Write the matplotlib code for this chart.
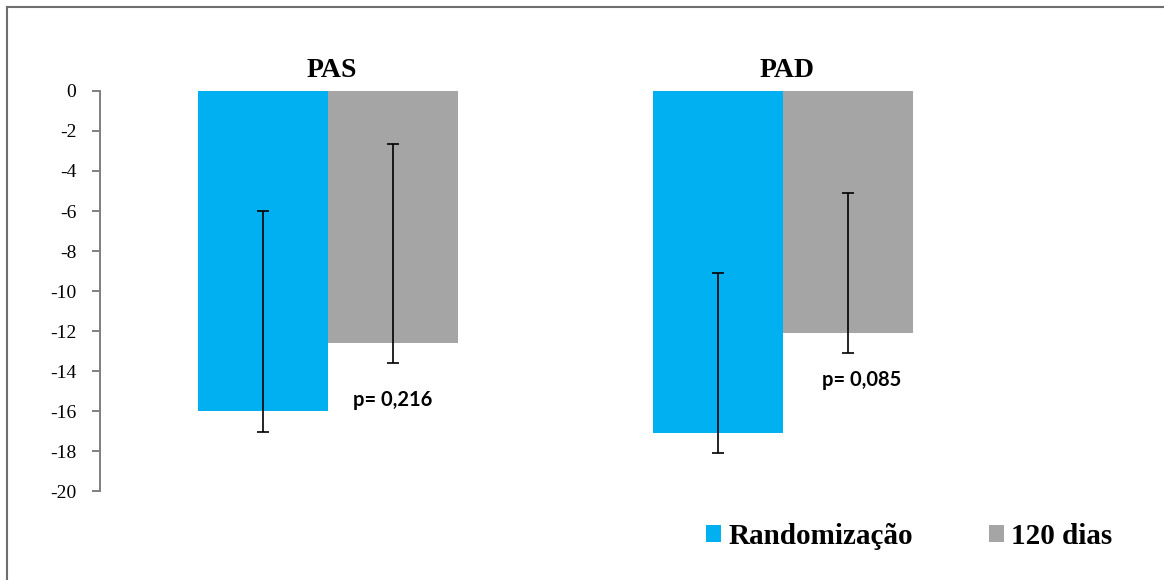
import numpy as np
import matplotlib.pyplot as plt
from matplotlib.patches import Patch
from matplotlib.lines import Line2D

# dados (variação da pressão arterial, mmHg)
grupos = ["PAS", "PAD"]
randomizacao = [-16.0, -17.1]
dias120 = [-12.6, -12.1]
# limites das barras de erro (inferior, superior)
rand_baixo = [-17.05, -18.1]
rand_alto = [-6.0, -9.1]
dias_baixo = [-13.6, -13.1]
dias_alto = [-2.65, -5.1]
p_valores = ["p= 0,216", "p= 0,085"]
p_pos_y = [-15.45, -14.45]
yticks = list(range(0, -21, -2))

AZUL = "#00B0F0"
CINZA = "#A5A5A5"
SERIF = ["Liberation Serif", "DejaVu Serif"]

fig = plt.figure(figsize=(11.64, 5.80), dpi=100, facecolor="white")
W, H = 1164, 580
ax = fig.add_axes([100 / W, 1 - 491 / H, 910 / W, 400 / H])

x = np.arange(len(grupos))
larg = 130 / 455

ax.bar(x - larg / 2, randomizacao, width=larg, color=AZUL, zorder=2)
ax.bar(x + larg / 2, dias120, width=larg, color=CINZA, zorder=2)

err_r = [np.array(randomizacao) - np.array(rand_baixo), np.array(rand_alto) - np.array(randomizacao)]
err_d = [np.array(dias120) - np.array(dias_baixo), np.array(dias_alto) - np.array(dias120)]
ax.errorbar(x - larg / 2, randomizacao, yerr=err_r, fmt="none", ecolor="black",
            elinewidth=1.2, capsize=4.5, capthick=1.2, zorder=3)
ax.errorbar(x + larg / 2, dias120, yerr=err_d, fmt="none", ecolor="black",
            elinewidth=1.2, capsize=4.5, capthick=1.2, zorder=3)

ax.set_xlim(-0.5, 1.5)
ax.set_ylim(-20, 0)
ax.set_yticks(yticks)
ax.set_yticklabels([str(t) for t in yticks], family=SERIF, fontsize=14)
ax.set_xticks([])
for s in ["top", "right", "bottom"]:
    ax.spines[s].set_visible(False)
ax.spines["left"].set_color("#7F7F7F")
ax.spines["left"].set_linewidth(1.4)
ax.tick_params(axis="y", direction="out", length=6, width=1.4, color="#7F7F7F", pad=11)

# títulos de cada grupo
for xi, g in zip(x, grupos):
    ax.text(xi + 0.01, 1.02, g, transform=ax.get_xaxis_transform(), ha="center", va="bottom",
            family=SERIF, fontsize=20, fontweight="bold")

# p-valores
for xi, p, py in zip(x, p_valores, p_pos_y):
    ax.text(xi + larg / 2 + 0.03 * xi, py, p, ha="center", va="center",
            family=["Lato", "DejaVu Sans"], fontsize=14.5, fontweight="bold")

# legenda
handles = [Patch(facecolor=AZUL), Patch(facecolor=CINZA)]
fig.legend(handles, ["Randomização", "120 dias"], loc="center left",
           bbox_to_anchor=(706 / W, 1 - 536 / H), ncol=2, frameon=False,
           prop={"family": SERIF, "size": 21, "weight": "bold"},
           handlelength=0.52, handleheight=0.52, handletextpad=0.25,
           columnspacing=2.6, borderpad=0, borderaxespad=0)

# moldura (só esquerda e topo visíveis)
fig.add_artist(Line2D([7 / W, 7 / W], [0, 1 - 7 / H], color="#6E6E6E", lw=1.5))
fig.add_artist(Line2D([7 / W, 1], [1 - 7 / H, 1 - 7 / H], color="#6E6E6E", lw=1.5))

fig.savefig("out.png", dpi=100, facecolor="white")
